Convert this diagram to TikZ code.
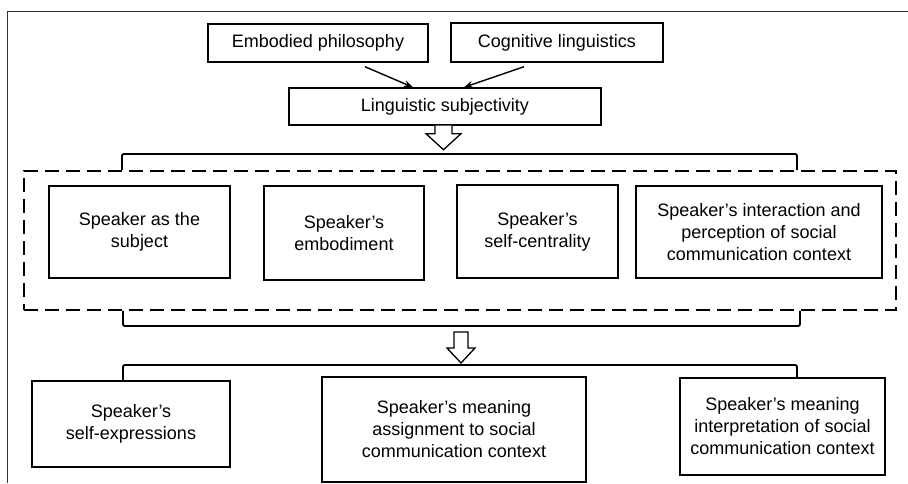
\documentclass[tikz,border=0pt]{standalone}
\usepackage{fontspec}
\setmainfont{Liberation Sans}
\usetikzlibrary{arrows.meta}

\tikzset{
  box/.style={draw, line width=1.4pt, align=center, inner sep=2pt,
    font=\fontsize{18}{22}\selectfont},
  dashbox/.style={draw, line width=1.8pt, dash pattern=on 14pt off 7pt},
  bracket/.style={line width=1.9pt, rounded corners=2pt},
  hollow/.style={draw, line width=1.3pt, fill=white, line join=miter},
  link/.style={line width=1.4pt, -{Stealth[length=9pt,width=7pt]}},
}

\begin{document}
\begin{tikzpicture}[x=1pt, y=-1pt]
\useasboundingbox (0,0) rectangle (908,483);
% frame
\draw[line width=1pt, black!80] (7,483) -- (7,11) -- (908,11);

% sources
\node[box, minimum width=220pt, minimum height=38pt] (emb) at (318,43) {Embodied philosophy};
\node[box, minimum width=212pt, minimum height=39pt] (cog) at (557,42.5) {Cognitive linguistics};
\node[box, minimum width=312pt, minimum height=37pt] (ling) at (445,106.5) {Linguistic subjectivity};

\draw[link] ([xshift=47pt,yshift=-4pt]emb.south) -- ([xshift=-32pt]ling.north);
\draw[link] ([xshift=-33pt,yshift=-4pt]cog.south) -- ([xshift=19pt]ling.north);

% hollow arrow to the group
\draw[hollow] ([xshift=-10pt]ling.south) -- ++(0,8) -- ++(-9,0) -- ++(17.5,16)
  -- ++(17.5,-16) -- ++(-9,0) -- ++(0,-8);

% group of aspects
\node[dashbox, minimum width=872pt, minimum height=139pt] (grp) at (460,240.5) {};
\node[box, minimum width=181pt, minimum height=92pt] (asp1) at (139.5,232) {Speaker as the\\subject};
\node[box, minimum width=160pt, minimum height=94pt] (asp2) at (344,233) {Speaker’s\\embodiment};
\node[box, minimum width=161pt, minimum height=93pt] (asp3) at (537.5,231.5) {Speaker’s\\self-centrality};
\node[box, minimum width=246pt, minimum height=92pt] (asp4) at (759,232)
  {Speaker’s interaction and\\perception of social\\communication context};

\coordinate (l1) at (122,154);
\coordinate (r1) at (797,154);
\draw[bracket] (l1 |- grp.north) -- (l1) -- (r1) -- (r1 |- grp.north);

\coordinate (l2) at (123,326);
\coordinate (r2) at (800,326);
\draw[bracket] (l2 |- grp.south) -- (l2) -- (r2) -- (r2 |- grp.south);

% hollow arrow to the results
\coordinate (a2) at (461,332);
\draw[hollow] ([xshift=-7pt]a2) -- ++(0,16) -- ++(-7,0) -- ++(14,15)
  -- ++(14,-15) -- ++(-7,0) -- ++(0,-16) -- cycle;

% results
\node[box, minimum width=198pt, minimum height=86pt] (res1) at (131,424) {Speaker’s\\self-expressions};
\node[box, minimum width=264pt, minimum height=105pt] (res2) at (454,429.5)
  {Speaker’s meaning\\assignment to social\\communication context};
\node[box, minimum width=205pt, minimum height=97pt] (res3) at (782.5,426.5)
  {Speaker’s meaning\\interpretation of social\\communication context};

\coordinate (l3) at (123,365);
\coordinate (r3) at (797,365);
\draw[bracket] (l3 |- res1.north) -- (l3) -- (r3) -- (r3 |- res3.north);
\end{tikzpicture}
\end{document}
